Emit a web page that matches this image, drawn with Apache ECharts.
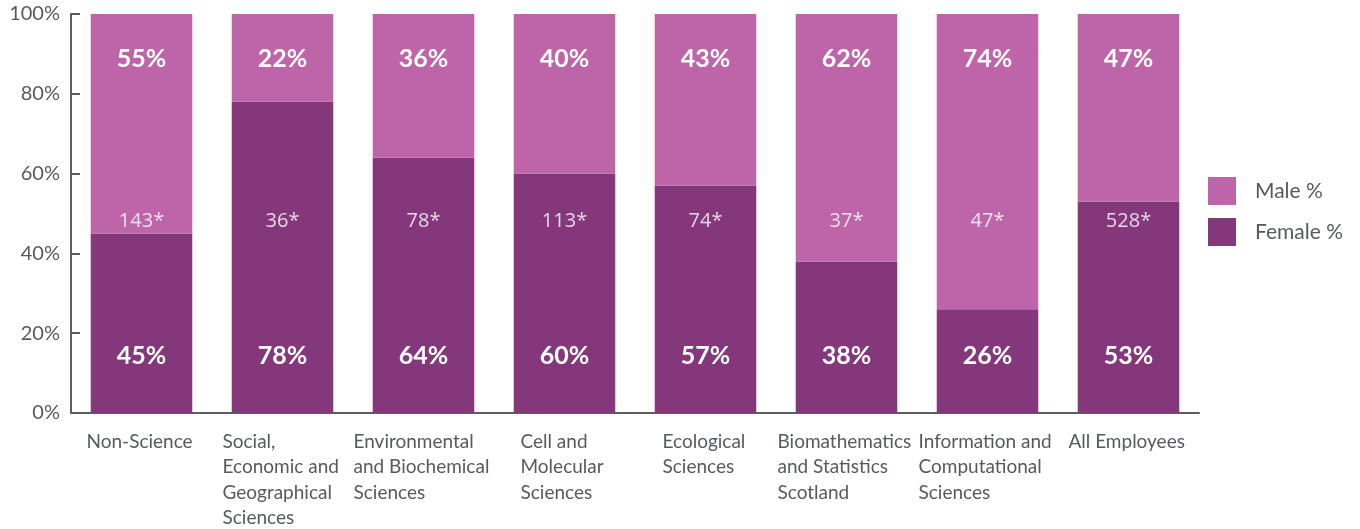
<!DOCTYPE html>
<html><head><meta charset="utf-8">
<script src="https://cdn.jsdelivr.net/npm/echarts@6/dist/echarts.min.js"></script>
<style>html,body{margin:0;padding:0;background:#fff}#c{width:1360px;height:529px}</style>
</head><body><div id="c"></div>
<script>
const categories = ["Non-Science","Social,\nEconomic and\nGeographical\nSciences","Environmental\nand Biochemical\nSciences","Cell and\nMolecular\nSciences","Ecological\nSciences","Biomathematics\nand Statistics\nScotland","Information and\nComputational\nSciences","All Employees"];
const femalePct = [45,78,64,60,57,38,26,53];
const malePct = [55,22,36,40,43,62,74,47];
const headcounts = ["143*","36*","78*","113*","74*","37*","47*","528*"];
const countLevel = [48,48,48,48,48,48,48,48];
const yTicks = [0,20,40,60,80,100];

const FEMALE = '#84377b', MALE = '#bd65a8', AXIS = '#5a5e63', TXT = '#555a5f';
const CAT_FONT = 19;
const ctx = document.createElement('canvas').getContext('2d');
ctx.font = CAT_FONT + 'px Lato';
function blockWidth(s){ return Math.max.apply(null, s.split('\n').map(l => ctx.measureText(l).width)); }

const chart = echarts.init(document.getElementById('c'));
chart.setOption({
  animation:false,
  grid:{left:71,right:161,top:14,bottom:116,containLabel:false,outerBoundsMode:'none'},
  legend:{
    orient:'vertical', left:1203, top:172, itemWidth:28, itemHeight:28, itemGap:13,
    icon:'rect', data:['Male %','Female %'],
    textStyle:{fontFamily:'Lato', fontSize:21, color:TXT, padding:[0,0,0,14]}
  },
  xAxis:{
    type:'category',
    data:categories.map(c => ({value:c, textStyle:{align:'left', padding:[0,0,0,-Math.round(blockWidth(c)/2) - 2]}})),
    axisLine:{lineStyle:{color:AXIS,width:2}},
    axisTick:{inside:true,length:9,lineStyle:{color:AXIS,width:2}},
    axisLabel:{interval:0, align:'left', margin:16,
      fontFamily:'Lato', fontSize:CAT_FONT, color:TXT, lineHeight:25.5}
  },
  yAxis:{
    type:'value', min:0, max:100, interval:20,
    axisLine:{show:true,lineStyle:{color:AXIS,width:2}},
    axisTick:{show:true,inside:true,length:9,lineStyle:{color:AXIS,width:2}},
    splitLine:{show:false},
    axisLabel:{formatter:'{value}%', fontFamily:'Lato', fontSize:20, color:TXT, margin:11}
  },
  series:[
    {name:'Female %', type:'bar', stack:'s', data:femalePct, barCategoryGap:'28%',
      itemStyle:{color:FEMALE},
      label:{show:true, position:'insideBottom', distance:45, formatter:'{c}%',
        color:'#fff', fontFamily:'Lato', fontWeight:'bold', fontSize:25}},
    {name:'Male %', type:'bar', stack:'s', data:malePct,
      itemStyle:{color:MALE},
      label:{show:true, position:'insideTop', distance:32, formatter:'{c}%',
        color:'#fff', fontFamily:'Lato', fontWeight:'bold', fontSize:25}},
    {name:'count', type:'scatter', data:countLevel.map((v,i)=>({value:v, label:{formatter:headcounts[i]}})),
      symbolSize:0, silent:true, z:5,
      label:{show:true, position:'inside', color:'#fff', fontFamily:'Open Sans', fontSize:20}}
  ]
});
</script></body></html>
